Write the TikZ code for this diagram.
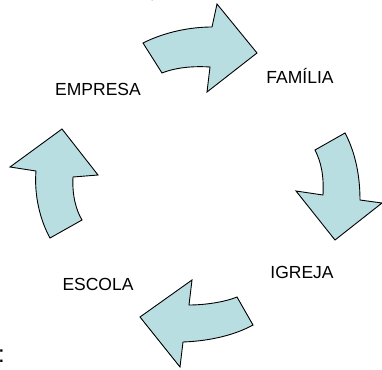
\documentclass[tikz,border=0pt]{standalone}
\usepackage{fontspec}
\setmainfont{Liberation Sans}
\definecolor{arrowfill}{RGB}{185,222,226}
\tikzset{
  blockarrow/.style={fill=arrowfill, draw=black, line width=0.9pt, line join=miter},
  lbl/.style={font=\fontsize{17.5}{20}\selectfont, inner sep=0pt, anchor=base}
}
\begin{document}
\begin{tikzpicture}[x=1pt,y=-1pt]
\useasboundingbox (0,0) rectangle (382,369);
% top arrow
\draw[blockarrow] (143,43) .. controls (165,32) and (190,27) .. (212,27)
  -- (217,4) -- (257,53) -- (207,92) -- (210,67)
  .. controls (195,66) and (177,67) .. (162,73) -- cycle;
% right arrow
\draw[blockarrow] (345,133) .. controls (353,148) and (360,170) .. (360,200)
  -- (382,203) -- (335,240) -- (296,191) -- (323,195)
  .. controls (324,175) and (321,162) .. (315,150) -- cycle;
% bottom arrow
\draw[blockarrow] (253,325) .. controls (235,335) and (210,341) .. (183,342)
  -- (180,367) -- (140,317) -- (192,280) -- (189,305)
  .. controls (205,305) and (225,302) .. (237,297) -- cycle;
% left arrow
\draw[blockarrow] (50,238) .. controls (40,220) and (34,195) .. (36,171)
  -- (10,167) -- (62,129) -- (98,175) -- (73,177)
  .. controls (72,195) and (76,210) .. (82,220) -- cycle;
% labels
\node[lbl] (empresa) at (98,95) {EMPRESA};
\node[lbl] (familia) at (300,83) {FAMÍLIA};
\node[lbl] (igreja) at (302,278) {IGREJA};
\node[lbl] (escola) at (98,290) {ESCOLA};
% cut-off fragments
\node[lbl, anchor=base west] (comma) at (150,-1) {,};
\node[font=\fontsize{24}{26}\selectfont, inner sep=0pt, anchor=base west] (colon) at (-2,362) {:};
\end{tikzpicture}
\end{document}
